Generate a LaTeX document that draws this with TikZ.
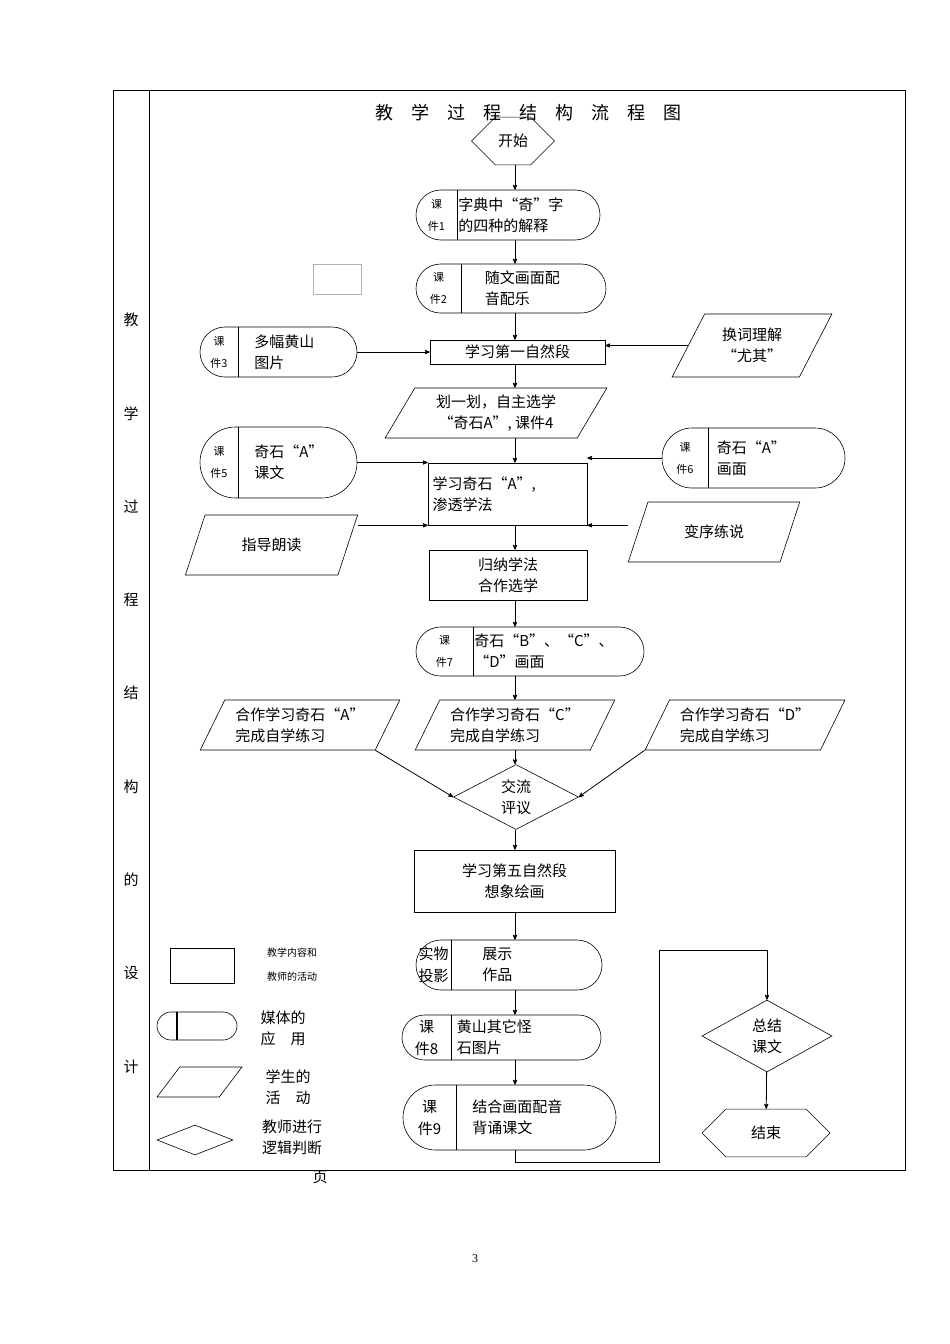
\documentclass[tikz,border=0pt]{standalone}
\usepackage{fontspec}
\setmainfont{Liberation Serif}
\newfontfamily\cjk{Noto Sans CJK SC}
\usetikzlibrary{arrows, shapes, positioning}

% media box: name, x1, y1, x2, y2, divider x, label, content
\newcommand{\media}[8]{%
  \node[media, minimum width={#4-#2}, minimum height={#5-#3}] (#1) at ({(#2+#4)/2}, {(#3+#5)/2}) {};
  \draw (#6, #3) -- (#6, #5);
  \node[small, align=center] (#1-l) at ({(#2+#6)/2}, {(#3+#5)/2}) {#7};
  \node[txt, anchor=west, align=left] (#1-t) at (#6, {(#3+#5)/2}) {#8};
}

\begin{document}
\begin{tikzpicture}[x=1pt, y=-1pt, >=stealth', semithick, font=\cjk\fontsize{15}{21}\selectfont,
    txt/.style={inner sep=1pt},
    small/.style={inner sep=1pt, font=\cjk\fontsize{11}{22}\selectfont},
    media/.style={draw, rounded rectangle, inner sep=0pt},
    box/.style={draw, rectangle, inner sep=1pt, align=center},
    para/.style={draw, trapezium, trapezium left angle=60, trapezium right angle=120, trapezium stretches=true, inner sep=1pt, align=left},
    hexa/.style={draw, chamfered rectangle, chamfered rectangle xsep=14pt, chamfered rectangle ysep=#1, inner sep=1pt},
    dia/.style={draw, diamond, inner sep=0pt, align=center},
    arr/.style={->, thick}]
  \useasboundingbox (0,0) rectangle (950,1344);

  % table frame
  \draw (113,90) rectangle (905,1170);
  \draw (149,90) -- (149,1170);
  \foreach \ch [count=\i] in {教,学,过,程,结,构,的,设,计}
    \node[txt] (side\i) at (131, {320 + (\i-1)*93.3}) {\ch};
  \node[txt, font=\cjk\fontsize{18}{22}\selectfont] (title) at (528,113) {教\quad 学\quad 过\quad 程\quad 结\quad 构\quad 流\quad 程\quad 图};
  \coordinate (col) at (515,0);

  % main column
  \node[hexa=16.5pt, minimum width=83, minimum height=33] (start) at (513,141) {开始};
  \media{k1}{416}{190}{600}{240}{457}{课\\件1}{字典中“奇”字\\的四种的解释}
  \draw[gray!60] (313,264) rectangle (361,294);
  \media{k2}{416}{264}{606}{313}{461}{课\\件2}{\hspace{1.5em}随文画面配\\\hspace{1.5em}音配乐}
  \node[box, minimum width=175, minimum height=24] (xx1) at (517.5,352) {学习第一自然段};
  \media{k3}{200}{327}{357}{377}{238}{课\\件3}{\hspace{1em}多幅黄山\\\hspace{1em}图片}
  \node[para, minimum width=160, minimum height=63, align=center] (hc) at (752,345.5) {换词理解\\“尤其”};
  \node[para, minimum width=222, minimum height=50, align=center] (hy) at (496,413) {划一划，自主选学\\“奇石A”, 课件4};
  \node[box, minimum width=159, minimum height=62, align=left, text width=150] (qs) at (507.5,494) {学习奇石“A”,\\渗透学法};
  \media{k5}{200}{427}{357}{498}{238}{课\\件5}{\hspace{1em}奇石“A”\\\hspace{1em}课文}
  \media{k6}{662}{428}{845}{488}{708}{课\\件6}{\hspace{0.5em}奇石“A”\\\hspace{0.5em}画面}
  \node[para, minimum width=173, minimum height=60] (zd) at (271.5,545) {指导朗读};
  \node[para, minimum width=172, minimum height=60] (bx) at (714,532) {变序练说};
  \node[box, minimum width=158, minimum height=50] (gn) at (508,575) {归纳学法\\合作选学};
  \media{k7}{416}{627}{644}{676}{473}{课\\件7}{奇石“B”、“C”、\\“D”画面}
  \node[para, minimum width=200, minimum height=50] (pa) at (300,725) {合作学习奇石“A”\\完成自学练习};
  \node[para, minimum width=200, minimum height=50] (pc) at (515,725) {合作学习奇石“C”\\完成自学练习};
  \node[para, minimum width=200, minimum height=50] (pd) at (745,725) {合作学习奇石“D”\\完成自学练习};
  \node[dia, minimum width=125, minimum height=50] (jl) at (516,797) {交流\\评议};
  \node[box, minimum width=201, minimum height=62] (xx5) at (514.5,881) {学习第五自然段\\想象绘画};
  \media{sw}{416}{940}{602}{990}{451}{\fontsize{15}{21}\selectfont 实物\\\fontsize{15}{21}\selectfont 投影}{\hspace{2em}展示\\\hspace{2em}作品}
  \media{k8}{402}{1015}{601}{1060}{451}{\fontsize{15}{21}\selectfont 课\\\fontsize{15}{21}\selectfont 件8}{\hspace{0.3em}黄山其它怪\\\hspace{0.3em}石图片}
  \media{k9}{403}{1085}{616}{1150}{456}{\fontsize{15}{21}\selectfont 课\\\fontsize{15}{21}\selectfont 件9}{\hspace{1em}结合画面配音\\\hspace{1em}背诵课文}
  \node[dia, minimum width=130, minimum height=72] (zj) at (767,1036) {总结\\课文};
  \node[hexa=22.5pt, minimum width=128, minimum height=45] (end) at (766,1133) {结束};
  \coordinate (c1) at (659,1162);
  \coordinate (c2) at (659,950);

  % connectors
  \draw[arr] (start.south -| col) -- (k1.north -| col);
  \draw[arr] (k1.south -| col) -- (k2.north -| col);
  \draw[arr] (k2.south -| col) -- (xx1.north -| col);
  \draw[arr] (k3.east) -- (k3.east -| xx1.west);
  \draw[arr] (hc.west) -- (hc.west -| xx1.east);
  \draw[arr] (xx1.south -| col) -- (hy.north -| col);
  \draw[arr] (hy.south -| col) -- (qs.north -| col);
  \draw[arr] (k5.east) -- (k5.east -| qs.west);
  \draw[arr] (k6.west) -- (k6.west -| qs.east);
  \draw[arr] (zd.top right corner |- qs.south) -- (qs.south west);
  \draw[arr] (bx.bottom left corner |- qs.south) -- (qs.south east);
  \draw[arr] (qs.south -| col) -- (gn.north -| col);
  \draw[arr] (gn.south -| col) -- (k7.north -| col);
  \draw[arr] (k7.south -| col) -- (pc.north -| col);
  \draw[arr] (pa.bottom right corner) -- (jl.west);
  \draw[arr] (pc.south -| col) -- (jl.north -| col);
  \draw[arr] (pd.bottom left corner) -- (jl.east);
  \draw[arr] (jl.south -| col) -- (xx5.north -| col);
  \draw[arr] (xx5.south -| col) -- (sw.north -| col);
  \draw[arr] (sw.south -| col) -- (k8.north -| col);
  \draw[arr] (k8.south -| col) -- (k9.north -| col);
  \draw (k9.south -| col) |- (c1) -- (c2);
  \draw[arr] (c2) -| (zj.north);
  \draw[arr] (zj) -- (end);

  % legend
  \node[draw, thick, minimum width=64, minimum height=35] (lg1) at (202,965.5) {};
  \node[small, align=left, font=\cjk\fontsize{10}{24}\selectfont] (lg1-t) at (292,965) {教学内容和\\教师的活动};
  \media{lg2}{157}{1012}{237}{1040}{177}{}{}
  \draw[very thick] (177,1012) -- (177,1040);
  \node[txt, align=left] (lg2-t) at (283,1028) {媒体的\\应\quad 用};
  \node[para, minimum width=85, minimum height=30] (lg3) at (199.5,1082) {};
  \node[txt, align=left] (lg3-t) at (288,1087) {学生的\\活\quad 动};
  \node[dia, minimum width=76, minimum height=30] (lg4) at (195,1140) {};
  \node[txt, align=left] (lg4-t) at (292,1137) {教师进行\\逻辑判断};
  \node[txt] (ye) at (320,1177) {页};
  \node[txt, font=\fontsize{12}{14}\selectfont] (pg) at (475,1259) {3};
\end{tikzpicture}
\end{document}
